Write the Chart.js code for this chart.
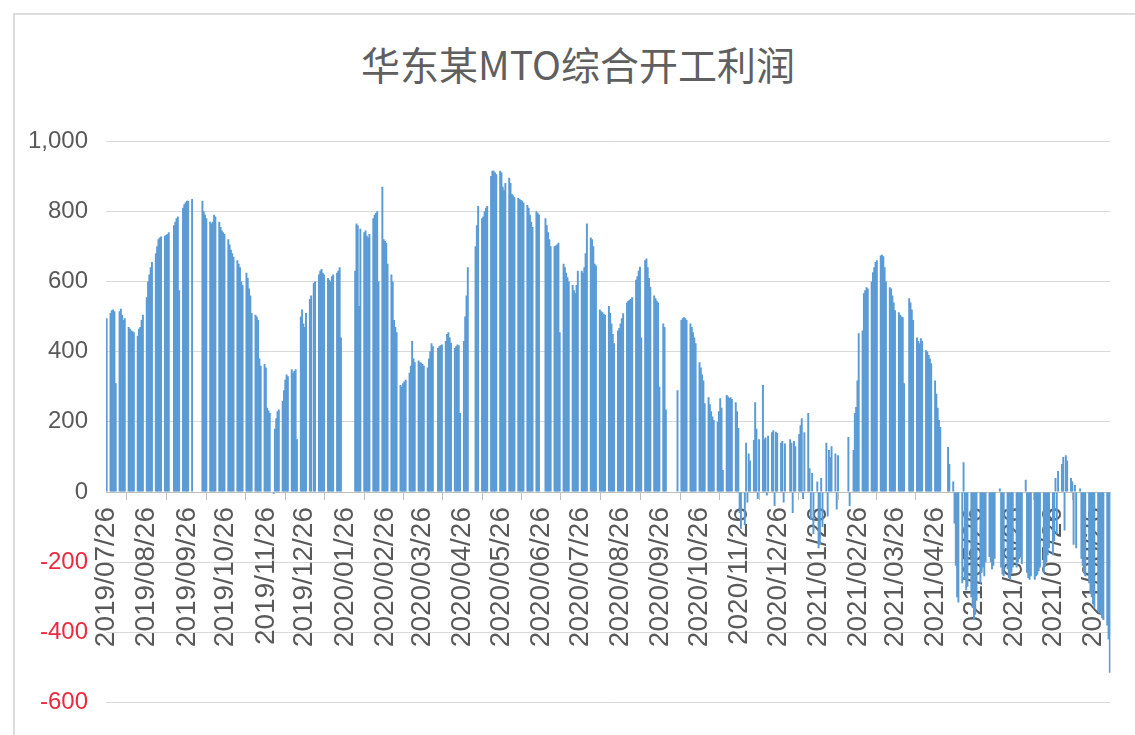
<!DOCTYPE html>
<html>
<head>
<meta charset="utf-8">
<script src="https://cdn.jsdelivr.net/npm/chart.js@4.4.0/dist/chart.umd.min.js"></script>
<style>
  html, body { margin: 0; padding: 0; background: #fff; }
  #wrap { position: relative; width: 1135px; height: 735px; overflow: hidden; }
  #frame { position: absolute; left: 13px; top: 13px; right: -5px; bottom: -5px;
           border-left: 2px solid #dcdcdc; border-top: 2px solid #dcdcdc; }
  #title { position: absolute; left: 0; top: 39px; width: 1156px; text-align: center;
           font: 39px/48px 'Noto Sans CJK SC', 'Noto Sans', sans-serif; color: #5f5f5f; }
  #chart { position: absolute; left: 0; top: 0; }
</style>
</head>
<body>
<div id="wrap">
  <div id="frame"></div>
  <div id="title">华东某MTO综合开工利润</div>
  <canvas id="chart" width="1135" height="735"></canvas>
</div>
<script>
// daily series, first and last day shown on the axis
const startDate = '2019-07-26';
const endDate = '2021-09-08';

// weekdays with no quote (public holidays)
const holidays = [
    '2019-09-13', '2019-10-01', '2019-10-02', '2019-10-03', '2019-10-04', '2019-10-07',
    '2020-01-01', '2020-01-24', '2020-01-27', '2020-01-28', '2020-01-29', '2020-01-30', '2020-01-31',
    '2020-04-06', '2020-05-01', '2020-05-04', '2020-05-05', '2020-06-25', '2020-06-26',
    '2020-10-01', '2020-10-02', '2020-10-05', '2020-10-06', '2020-10-07', '2020-10-08',
    '2021-01-01', '2021-02-11', '2021-02-12', '2021-02-15', '2021-02-16', '2021-02-17',
    '2021-04-05', '2021-05-03', '2021-05-04', '2021-05-05', '2021-06-14'
];

// profit (yuan/t), one value per trading day, one week per line
const profit2019 = [
    495,
    510, 518, 520, 515, 310,
    515, 522, 505, 490, 495,
    470, 465, 460, 458, 455,
    445, 465, 470, 490, 505,
    555, 600, 620, 640, 655,
    680, 700, 720, 725, 728,
    730, 732, 735, 740,
    760, 770, 780, 785, 575,
    810, 820, 825, 830, 830,
    835,
    830, 800, 790, 780,
    770, 765, 770, 790, 785,
    770, 755, 745, 740, 735,
    720, 705, 690, 680, 670,
    660, 650, 640, 600, 590,
    625, 610, 580, 560, 510,
    505, 500, 490, 380, 360,
    365, 355, 240, 232, 225,
    -5, 180, 210, 230, 235,
    260, 290, 320, 335, 330,
    350, 340, 345, 350, 150,
    500, 520, 480, 470, 510,
    550, 560
];

const profit2020 = [
    595, 600,
    620, 630, 635, 625, 620,
    610, 605, 600, 615, 620,
    625, 630, 640, 440,
    630, 765, 760, 530, 750,
    740, 745, 730, 725, 735,
    780, 790, 795, 800, 600,
    870, 720, 715, 710, 650,
    620, 600, 490, 470, 455,
    305, 300, 310, 315, 320,
    340, 360, 430, 380, 370,
    375, 370, 368, 365, 360,
    355, 380, 400, 424, 415,
    410, 415, 418, 420,
    430, 450, 455, 440, 425,
    410, 415, 420, 418, 225,
    430, 500, 560, 640,
    700, 760, 815,
    780, 785, 800, 810, 815,
    900, 915, 915, 910, 905,
    915, 910, 870, 860, 880,
    895, 880, 850, 845, 840,
    838, 835, 832, 830, 825,
    818, 810, 790, 770, 755,
    800, 795, 790,
    780, 760, 740, 720, 700,
    700, 702, 705, 710, 455,
    650, 640, 625, 612, 600,
    590, 575, 566, 590, 630,
    630, 625, 640, 680, 765,
    725, 720, 700, 650, 645,
    520, 515, 512, 508, 504,
    530, 510, 480, 450, 424,
    460, 467, 480, 495, 509,
    540, 545, 548, 550, 555,
    605, 615, 630, 642, 440,
    660, 665, 640, 610, 585,
    560, 552, 545, 540, 300,
    480, 470, 235,
    290,
    490, 495, 498, 495, 490,
    480, 470, 455, 440, 424,
    370, 355, 335, 318, 253,
    270, 250, 230, 215, 205,
    200, 230, 267, 240, 63,
    276, 272, 268, 270, 265,
    256, 230, 182, -60, -105,
    -95, 140, -30, 110, 90,
    148, 256, 180, -20, 150,
    305, 150, 155, -10, 160,
    170, 176, -40, 172, 168,
    140, 145, -30, 138
];

const profit2021 = [
    150, 140, -60, 145, 130,
    165, 190, 210, -20, 170,
    225, 68, -80, 54, -120,
    30, -160, -150, 40, -100,
    140, -70, 120, 100, 130,
    110, -50, 105,
    157, -40,
    120, 225, 242, 318, 452,
    460, 566, 575, 583, 580,
    600, 626, 640, 655, 660,
    674, 676, 672, 640, 600,
    583, 580, 560, 540, 518,
    512, 505, 500, 498, 310,
    552, 540, 520, 490,
    440, 430, 424, 438, 430,
    404, 400, 390, 380, 367,
    318, 280, 240, 205, 185,
    128, 80,
    30, -90, -210, -300, -315,
    -260, 85, -250, -280, -270,
    -300, -330, -365, -350, -310,
    -260, -230, -215, -240, -200,
    -185, -200, -220, -210, -190,
    10, -215, -235, -240,
    -220, -245, -250, -230, -215,
    -215, -200, -190, -185, -205,
    35, -230, -245, -250, -240,
    -250, -240, -236, -225, -215,
    -230, -213, -200, -180, -160,
    -180, -140, 40, -120, 60,
    80, 100, -110, 105, 90,
    40, 30, -150, 20, -160,
    10, -190, -210, -230, -240,
    -260, -290, -300, -320, -330,
    -340, -345, -350, -360, -365,
    -380, -420, -515
];

const yTicks = [-600, -400, -200, 0, 200, 400, 600, 800, 1000];

// spread the trading-day values over a calendar-day axis (weekends/holidays stay empty)
const profitByYear = { 2019: profit2019, 2020: profit2020, 2021: profit2021 };
const labels = [];
const values = [];
const pos = { 2019: 0, 2020: 0, 2021: 0 };
const end = new Date(endDate + 'T00:00:00Z');
for (let d = new Date(startDate + 'T00:00:00Z'); d <= end; d.setUTCDate(d.getUTCDate() + 1)) {
    const iso = d.toISOString().slice(0, 10);
    const year = d.getUTCFullYear();
    const wd = d.getUTCDay();
    labels.push(iso.replace(/-/g, '/'));
    if (wd === 0 || wd === 6 || holidays.includes(iso)) {
        values.push(null);
    } else {
        const v = profitByYear[year][pos[year]++];
        values.push(v === undefined ? null : v);
    }
}

const grey = '#595959';
const red = '#ec2a3f';

const ctx = document.getElementById('chart').getContext('2d');
new Chart(ctx, {
    type: 'bar',
    data: {
        labels: labels,
        datasets: [{
            data: values,
            backgroundColor: '#5b9bd5',
            borderWidth: 0,
            barPercentage: 1.5,
            categoryPercentage: 1
        }]
    },
    options: {
        responsive: false,
        animation: false,
        layout: { padding: { left: 0, right: 22, top: 141, bottom: 31 } },
        plugins: {
            legend: { display: false },
            tooltip: { enabled: false }
        },
        scales: {
            x: {
                position: { y: 0 },
                grid: { drawOnChartArea: false, drawTicks: true, tickLength: 7, color: '#bfbfbf' },
                border: { display: true, color: '#bfbfbf', width: 1 },
                ticks: {
                    autoSkip: false,
                    minRotation: 90,
                    maxRotation: 90,
                    padding: 8,
                    color: grey,
                    font: { family: "'Liberation Sans', Arial, sans-serif", size: 28 },
                    callback: (v) => labels[v].endsWith('/26') ? labels[v] : null
                }
            },
            y: {
                min: yTicks[0],
                max: yTicks[yTicks.length - 1],
                afterBuildTicks: (s) => { s.ticks = yTicks.map(v => ({ value: v })); },
                afterFit: (s) => { s.width = 106; },
                grid: { color: '#d9d9d9', lineWidth: 1, drawTicks: false },
                border: { display: false },
                ticks: {
                    padding: 18,
                    color: (c) => (c.tick && c.tick.value < 0) ? red : grey,
                    font: { family: "'Liberation Sans', Arial, sans-serif", size: 24 },
                    callback: (v) => v.toLocaleString('en-US')
                }
            }
        }
    }
});
</script>
</body>
</html>
